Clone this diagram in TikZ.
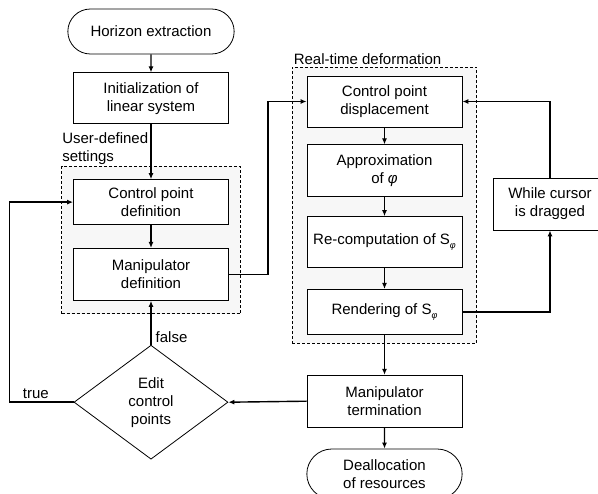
\documentclass[tikz,border=0pt]{standalone}
\usepackage{fontspec}
\setmainfont{Liberation Sans}
\usetikzlibrary{arrows.meta,positioning,shapes.misc,shapes.geometric,fit,backgrounds}

\newcommand{\vphi}{{\itshape φ}}
\newcommand{\Sphi}{S\raisebox{-4pt}{\fontsize{9}{9}\selectfont\itshape φ}}

\begin{document}
\begin{tikzpicture}[
  x=1pt,y=1pt,
  node distance=18pt,
  font=\fontsize{15}{18}\selectfont,
  stepbox/.style={draw,fill=white,line width=.8pt,minimum width=155pt,minimum height=51pt,align=center,inner sep=2pt},
  terminal/.style={draw,fill=white,line width=.8pt,rounded rectangle,minimum height=45pt,align=center},
  decision/.style={draw,fill=white,line width=.8pt,diamond,aspect=1.35,minimum width=154pt,minimum height=114pt,align=center,inner sep=0pt},
  group/.style={draw,densely dashed,line width=1pt,fill=gray!6},
  flow/.style={-{Latex[length=6pt,width=5pt]},line width=1.4pt}
]
  \useasboundingbox (0,0) rectangle (598,-494);

  % left column
  \node[terminal,minimum width=173pt] (horizon) at (151,-31.5) {Horizon extraction};
  \node[stepbox,below=18pt of horizon] (init) {Initialization of\\linear system};
  \node[stepbox,below=55pt of init,minimum height=45pt] (cpdef) {Control point\\definition};
  \node[stepbox,below=23pt of cpdef,minimum height=52pt] (mandef) {Manipulator\\definition};
  \node[decision,below=44pt of mandef] (decide) {Edit\\control\\points};

  % right column
  \node[stepbox] (cpdisp) at (384.5,-101.5) {Control point\\displacement};
  \node[stepbox,below=17pt of cpdisp,minimum height=52pt] (approx) {Approximation\\of \vphi};
  \node[stepbox,below=19pt of approx] (recomp) {Re-computation of \Sphi};
  \node[stepbox,below=21pt of recomp,minimum height=45pt] (render) {Rendering of \Sphi};
  \node[stepbox,below=40pt of render,minimum height=52pt] (termin) {Manipulator\\termination};
  \node[terminal,below=21pt of termin,minimum width=162pt,minimum height=50pt] (dealloc) {Deallocation\\of resources};

  \node[stepbox,minimum width=114pt,minimum height=52pt] (drag) at (550,-204) {While cursor\\is dragged};

  % groups
  \begin{scope}[on background layer]
    \node[group,fit=(cpdef)(mandef),inner xsep=11.5pt,inner ysep=13pt] (usergrp) {};
    \node[group,fit=(cpdisp)(render),inner xsep=14.5pt,inner ysep=8.5pt] (rtgrp) {};
  \end{scope}
  \node[anchor=south west,align=left,inner sep=1pt] at (usergrp.north west) {User-defined\\settings};
  \node[anchor=south west,inner sep=2pt] at (rtgrp.north west) {Real-time deformation};

  % connectors
  \draw[flow] (horizon) -- (init);
  \draw[flow] (init) -- (cpdef);
  \draw[flow] (cpdef) -- (mandef);
  \draw[flow] (decide) -- node[anchor=west,pos=.18,inner sep=4pt] {false} (mandef);
  \draw[flow] (decide.west) -- node[above,pos=.59,inner sep=3pt] {true} ++(-64,0) |- (cpdef.west);
  \draw[flow] (mandef.east) -- ++(39,0) |- (cpdisp.west);
  \draw[flow] (cpdisp) -- (approx);
  \draw[flow] (approx) -- (recomp);
  \draw[flow] (recomp) -- (render);
  \draw[flow] (render) -- (termin);
  \draw[flow] (termin) -- (dealloc);
  \draw[flow] (termin.west) -- (decide.east);
  \draw[flow] (render.east) -| (drag.south);
  \draw[flow] (drag.north) |- (cpdisp.east);
\end{tikzpicture}
\end{document}
